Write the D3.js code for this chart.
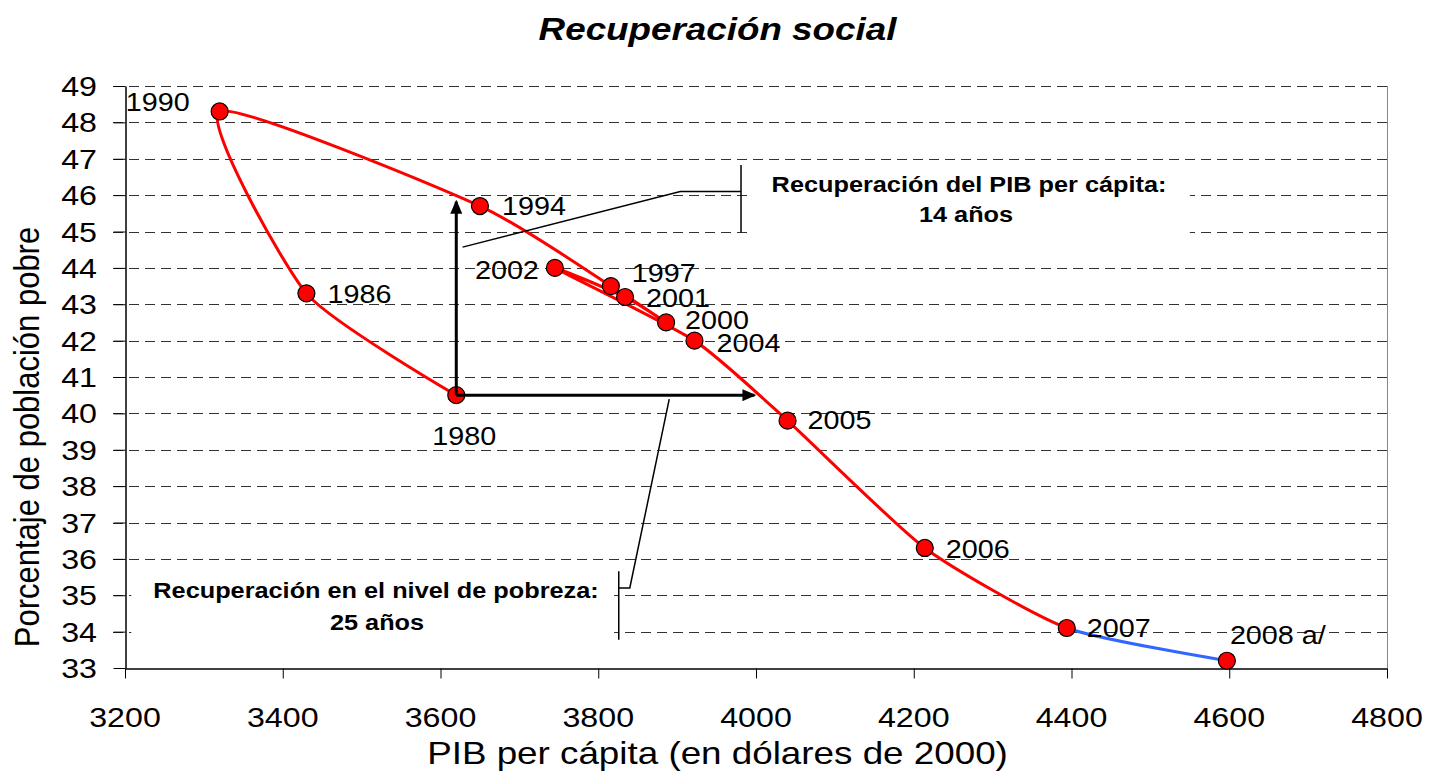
<!DOCTYPE html>
<html>
<head>
<meta charset="utf-8">
<script src="https://cdn.jsdelivr.net/npm/d3@7"></script>
<style>
	html, body { margin: 0; padding: 0; background: #fff; }
	svg { display: block; }
	text { font-family: "Liberation Sans", Arial, sans-serif; fill: #000; }
</style>
</head>
<body>
<div id="chart"></div>
<script>
// data
const years = ["1980", "1986", "1990", "1994", "1997", "2000", "2001", "2002", "2004", "2005", "2006", "2007", "2008 a/"];
const pibPerCapita = [3620, 3430, 3320, 3650, 3816, 3886, 3834, 3745, 3922, 4040, 4214, 4394, 4597];
const pobreza = [40.5, 43.3, 48.3, 45.7, 43.5, 42.5, 43.2, 44.0, 42.0, 39.8, 36.3, 34.1, 33.2];

const xTicks = [3200, 3400, 3600, 3800, 4000, 4200, 4400, 4600, 4800];
const yTicks = [33, 34, 35, 36, 37, 38, 39, 40, 41, 42, 43, 44, 45, 46, 47, 48, 49];

const title = "Recuperación social";
const xTitle = "PIB per cápita (en dólares de 2000)";
const yTitle = "Porcentaje de población pobre";
const calloutPib = ["Recuperación del PIB per cápita:", "14 años"];
const calloutPobreza = ["Recuperación en el nivel de pobreza:", "25 años"];

// label offsets in px from each point: [dx, dy, anchor]
const labelOffsets = {
	"1980": [-24, 50, "start"],
	"1986": [21, 10, "start"],
	"1990": [-30, 0, "end"],
	"1994": [22, 9, "start"],
	"1997": [21, -4, "start"],
	"2000": [19, 7, "start"],
	"2001": [21, 10, "start"],
	"2002": [-16, 11, "end"],
	"2004": [22, 11, "start"],
	"2005": [20, 8, "start"],
	"2006": [21, 10, "start"],
	"2007": [20, 9, "start"],
	"2008 a/": [3, -17, "start"]
};

const W = 1429, H = 771;
const margin = {left: 125, right: 42, top: 86, bottom: 103};
const SX = 1.15; // the source text is a bit wider than tall

const points = years.map((y, i) => ({year: y, x: pibPerCapita[i], y: pobreza[i]}));

const x = d3.scaleLinear()
	.domain([3200, 4800])
	.range([margin.left, W - margin.right]);

const y = d3.scaleLinear()
	.domain([33, 49])
	.range([H - margin.bottom, margin.top]);

const svg = d3.select("#chart")
	.append("svg")
	.attr("width", W)
	.attr("height", H);

// text with a little horizontal stretch
function label(parent, px, py, str, size, opts = {}) {
	return parent.append("text")
		.attr("transform", `translate(${px},${py}) scale(${SX},1)`)
		.attr("text-anchor", opts.anchor || "start")
		.attr("font-size", size)
		.attr("font-weight", opts.weight || "normal")
		.attr("font-style", opts.style || "normal")
		.text(str);
}

const defs = svg.append("defs");
defs.append("clipPath").attr("id", "clip-red")
	.append("rect")
	.attr("x", 0).attr("y", 0)
	.attr("width", x(pibPerCapita[11])).attr("height", H);
defs.append("clipPath").attr("id", "clip-blue")
	.append("rect")
	.attr("x", x(pibPerCapita[11])).attr("y", 0)
	.attr("width", W).attr("height", H);
defs.append("marker")
	.attr("id", "arrow")
	.attr("markerUnits", "userSpaceOnUse")
	.attr("viewBox", "0 0 14 12")
	.attr("refX", 12).attr("refY", 6)
	.attr("markerWidth", 14).attr("markerHeight", 12)
	.attr("orient", "auto")
	.append("path")
	.attr("d", "M0,0 L14,6 L0,12 Z")
	.attr("fill", "#000");

// gridlines
svg.append("g")
	.selectAll("line")
	.data(yTicks.filter(d => d > 33))
	.enter()
	.append("line")
	.attr("x1", margin.left - 12)
	.attr("x2", x(4800))
	.attr("y1", d => Math.round(y(d)) + 0.5)
	.attr("y2", d => Math.round(y(d)) + 0.5)
	.attr("stroke", "#333")
	.attr("stroke-dasharray", "10,6");

// right border
svg.append("line")
	.attr("x1", x(4800) + 0.5).attr("x2", x(4800) + 0.5)
	.attr("y1", y(49)).attr("y2", y(33))
	.attr("stroke", "#888");

// white boxes behind the callouts
svg.append("rect")
	.attr("x", x(3992)).attr("y", y(46.7))
	.attr("width", x(4550) - x(3992)).attr("height", y(44.6) - y(46.7))
	.attr("fill", "#fff");
svg.append("rect")
	.attr("x", x(3208)).attr("y", y(35.7))
	.attr("width", x(3820) - x(3208)).attr("height", y(33.6) - y(35.7))
	.attr("fill", "#fff");

// axes
const yAxis = svg.append("g")
	.attr("transform", `translate(${margin.left + 0.5},0)`)
	.call(d3.axisLeft(y).tickValues(yTicks).tickSize(12).tickSizeOuter(0).tickPadding(16));
const xAxis = svg.append("g")
	.attr("transform", `translate(0,${Math.round(y(33)) + 0.5})`)
	.call(d3.axisBottom(x).tickValues(xTicks).tickSize(10).tickSizeOuter(0).tickPadding(0));

[yAxis, xAxis].forEach(ax => {
	ax.select(".domain").attr("stroke", "#000").attr("stroke-width", 1.5);
	ax.selectAll(".tick line").attr("stroke", "#000");
	ax.selectAll("text").remove();
});

yTicks.forEach(t => label(svg, margin.left - 28, y(t) + 10, t, 28, {anchor: "end"}));
xTicks.forEach(t => label(svg, x(t), 727, t, 28, {anchor: "middle"}));

// titles
label(svg, W / 2 + 3, 40, title, 32, {anchor: "middle", weight: "bold", style: "italic"});
label(svg, W / 2 + 3, 764, xTitle, 32, {anchor: "middle"});
svg.append("text")
	.attr("transform", `translate(39,${(y(33) + y(49)) / 2 + 60}) rotate(-90) scale(1,${SX})`)
	.attr("text-anchor", "middle")
	.attr("font-size", 31)
	.text(yTitle);

// the line, red up to 2007 and blue after
const line = d3.line()
	.x(d => x(d.x))
	.y(d => y(d.y))
	.curve(d3.curveCardinal.tension(0.4));

svg.append("path")
	.datum(points)
	.attr("d", line)
	.attr("fill", "none")
	.attr("stroke", "#ff0000")
	.attr("stroke-width", 3)
	.attr("clip-path", "url(#clip-red)");
svg.append("path")
	.datum(points)
	.attr("d", line)
	.attr("fill", "none")
	.attr("stroke", "#3366ff")
	.attr("stroke-width", 3)
	.attr("clip-path", "url(#clip-blue)");

// callout leader lines
const leader = d3.line().x(d => x(d[0])).y(d => y(d[1]));
svg.append("path")
	.attr("d", leader([[3981, 46.83], [3981, 44.97]]))
	.attr("stroke", "#000").attr("stroke-width", 1.5).attr("fill", "none");
svg.append("path")
	.attr("d", leader([[3981, 46.1], [3904, 46.1], [3628, 44.57]]))
	.attr("stroke", "#000").attr("stroke-width", 1.5).attr("fill", "none");
svg.append("path")
	.attr("d", leader([[3826, 35.66], [3826, 33.78]]))
	.attr("stroke", "#000").attr("stroke-width", 1.5).attr("fill", "none");
svg.append("path")
	.attr("d", leader([[3826, 35.2], [3840, 35.2], [3890, 40.39]]))
	.attr("stroke", "#000").attr("stroke-width", 1.5).attr("fill", "none");

// markers
svg.append("g")
	.selectAll("circle")
	.data(points)
	.enter()
	.append("circle")
	.attr("cx", d => x(d.x))
	.attr("cy", d => y(d.y))
	.attr("r", 8.5)
	.attr("fill", "#ff0000")
	.attr("stroke", "#000")
	.attr("stroke-width", 1.2);

// recovery arrows from 1980, over its marker
const p1980 = points[0];
svg.append("path")
	.attr("d", leader([[p1980.x, p1980.y], [p1980.x, 45.82]]))
	.attr("stroke", "#000").attr("stroke-width", 3).attr("fill", "none")
	.attr("marker-end", "url(#arrow)");
svg.append("path")
	.attr("d", leader([[p1980.x, p1980.y], [3998, p1980.y]]))
	.attr("stroke", "#000").attr("stroke-width", 3).attr("fill", "none")
	.attr("marker-end", "url(#arrow)");

// year labels
points.forEach(d => {
	const o = labelOffsets[d.year];
	label(svg, x(d.x) + o[0], y(d.y) + o[1], d.year, 25, {anchor: o[2]});
});

// callout texts
label(svg, 969, 192, calloutPib[0], 22, {anchor: "middle", weight: "bold"});
label(svg, 966, 222, calloutPib[1], 22, {anchor: "middle", weight: "bold"});
label(svg, 376, 598, calloutPobreza[0], 22, {anchor: "middle", weight: "bold"});
label(svg, 377, 630, calloutPobreza[1], 22, {anchor: "middle", weight: "bold"});
</script>
</body>
</html>
